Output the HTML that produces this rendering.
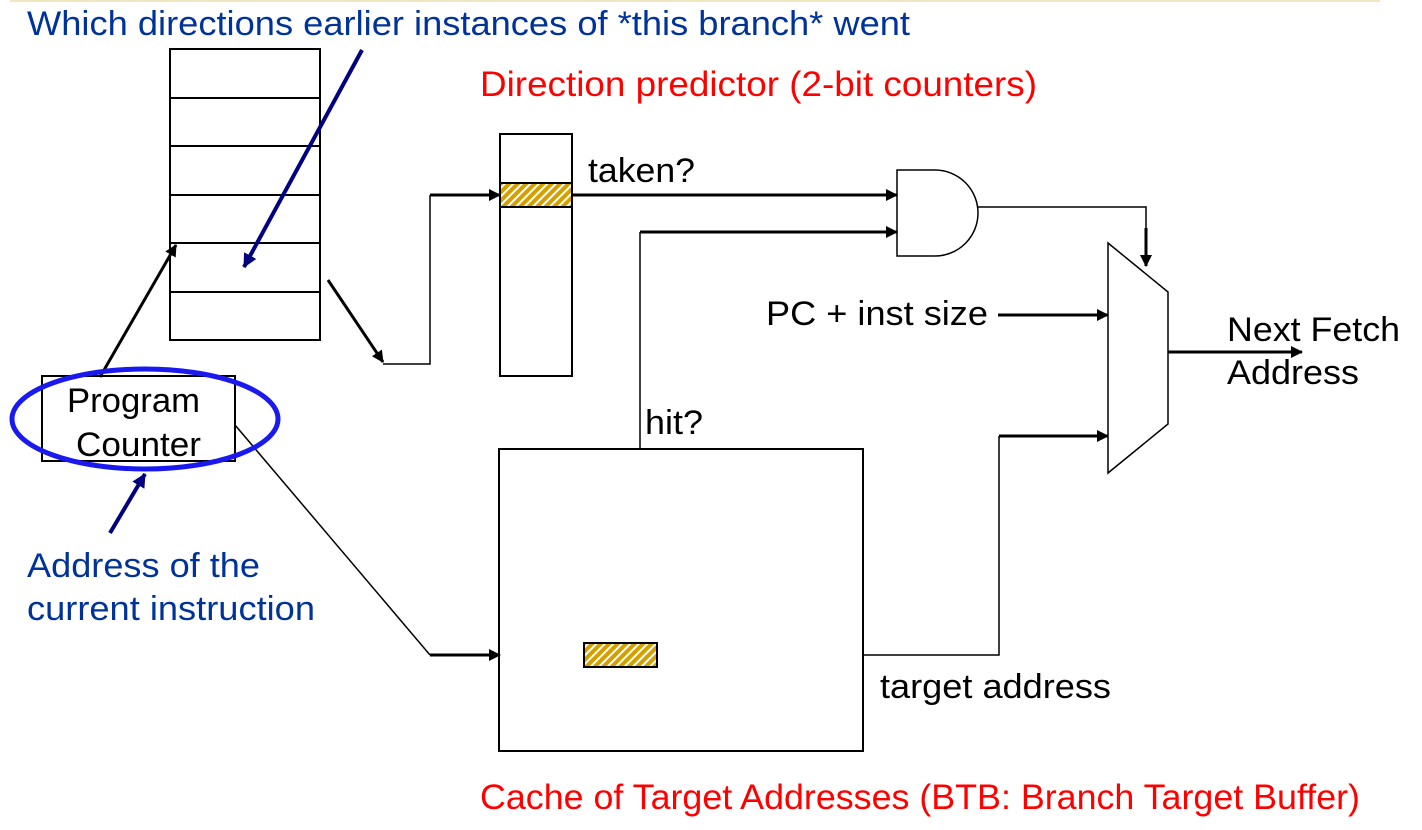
<!DOCTYPE html>
<html><head><meta charset="utf-8"><style>
html,body{margin:0;padding:0;background:#fff;}
svg{display:block;font-family:"Liberation Sans",Arial,sans-serif;}
</style></head><body>
<svg width="1422" height="830" viewBox="0 0 1422 830" xmlns="http://www.w3.org/2000/svg">
<defs>
<pattern id="h" patternUnits="userSpaceOnUse" width="6" height="6" patternTransform="rotate(45)">
<rect width="6" height="6" fill="#d4a000"/><rect width="2" height="6" fill="#fff"/>
</pattern>
<marker id="a2" markerWidth="12" markerHeight="12" refX="11" refY="6" orient="auto" markerUnits="userSpaceOnUse" viewBox="0 0 12 12"><path d="M0,0 L12,6 L0,12 z" fill="#000"/></marker>
<marker id="b" markerWidth="14" markerHeight="14" refX="13" refY="7" orient="auto" markerUnits="userSpaceOnUse" viewBox="0 0 14 14"><path d="M0,0 L14,7 L0,14 z" fill="#000080"/></marker>
</defs>
<line x1="10" y1="1" x2="1380" y2="1" stroke="#f0e6c0" stroke-width="2"/>
<text x="27" y="35" font-size="34" fill="#003399" textLength="883" lengthAdjust="spacingAndGlyphs">Which directions earlier instances of *this branch* went</text>
<text x="480" y="96" font-size="35" fill="#ff0000" textLength="557" lengthAdjust="spacingAndGlyphs">Direction predictor (2-bit counters)</text>
<text x="480" y="809" font-size="35" fill="#ff0000" textLength="880" lengthAdjust="spacingAndGlyphs">Cache of Target Addresses (BTB: Branch Target Buffer)</text>
<g fill="none" stroke="#000" stroke-width="2">
<rect x="170" y="49" width="150" height="291"/>
<line x1="170" y1="98" x2="320" y2="98"/><line x1="170" y1="146" x2="320" y2="146"/>
<line x1="170" y1="195" x2="320" y2="195"/><line x1="170" y1="243" x2="320" y2="243"/>
<line x1="170" y1="292" x2="320" y2="292"/>
<rect x="500" y="134" width="72" height="242"/>
<rect x="499" y="449" width="364" height="302"/>
<rect x="42" y="376" width="193" height="85"/>
</g>
<rect x="500" y="183" width="72" height="24" fill="url(#h)" stroke="#000" stroke-width="2"/>
<rect x="584" y="643" width="73" height="24" fill="url(#h)" stroke="#000" stroke-width="2"/>
<g fill="none" stroke="#000">
<line x1="100" y1="377" x2="176" y2="245" stroke-width="3" marker-end="url(#a2)"/>
<line x1="328" y1="280" x2="383" y2="362" stroke-width="3" marker-end="url(#a2)"/>
<polyline points="383,364 430,364 430,195" stroke-width="1.5"/>
<line x1="430" y1="195" x2="500" y2="195" stroke-width="3" marker-end="url(#a2)"/>
<line x1="572" y1="195" x2="897" y2="195" stroke-width="3" marker-end="url(#a2)"/>
<line x1="640" y1="449" x2="640" y2="232" stroke-width="1.5"/>
<line x1="640" y1="232" x2="897" y2="232" stroke-width="3" marker-end="url(#a2)"/>
<path d="M897,170 L935,170 A43,43 0 0 1 935,256 L897,256 Z" stroke-width="1.5"/>
<polyline points="978,207 1146,207 1146,230" stroke-width="1.5"/>
<line x1="1146" y1="228" x2="1146" y2="266" stroke-width="3" marker-end="url(#a2)"/>
<polygon points="1108,243 1168,292 1168,424 1108,473" stroke-width="1.5"/>
<line x1="998" y1="315" x2="1108" y2="315" stroke-width="3" marker-end="url(#a2)"/>
<line x1="1168" y1="352" x2="1302" y2="352" stroke-width="3" marker-end="url(#a2)"/>
<polyline points="864,655 999,655 999,436" stroke-width="1.5"/>
<line x1="999" y1="436" x2="1108" y2="436" stroke-width="3" marker-end="url(#a2)"/>
<line x1="235" y1="425" x2="430" y2="655" stroke-width="1.5"/>
<line x1="430" y1="655" x2="500" y2="655" stroke-width="3" marker-end="url(#a2)"/>
</g>
<line x1="362" y1="50" x2="244" y2="267" stroke="#000080" stroke-width="4" marker-end="url(#b)"/>
<line x1="110" y1="533" x2="145" y2="474" stroke="#000080" stroke-width="4" marker-end="url(#b)"/>
<ellipse cx="145" cy="419" rx="133" ry="50" fill="none" stroke="#1a1aee" stroke-width="5"/>
<g font-size="34" fill="#000" lengthAdjust="spacingAndGlyphs">
<text x="67" y="412" textLength="133" lengthAdjust="spacingAndGlyphs">Program</text>
<text x="76" y="456" textLength="125" lengthAdjust="spacingAndGlyphs">Counter</text>
<text x="588" y="182" textLength="107" lengthAdjust="spacingAndGlyphs">taken?</text>
<text x="645" y="434" textLength="58" lengthAdjust="spacingAndGlyphs">hit?</text>
<text x="766" y="325" textLength="222" lengthAdjust="spacingAndGlyphs">PC + inst size</text>
<text x="1227" y="341" textLength="173" lengthAdjust="spacingAndGlyphs">Next Fetch</text>
<text x="1227" y="384" textLength="132" lengthAdjust="spacingAndGlyphs">Address</text>
<text x="880" y="698" textLength="231" lengthAdjust="spacingAndGlyphs">target address</text>
</g>
<g font-size="34" fill="#003399">
<text x="27" y="577" textLength="233" lengthAdjust="spacingAndGlyphs">Address of the</text>
<text x="27" y="620" textLength="288" lengthAdjust="spacingAndGlyphs">current instruction</text>
</g>
</svg>
</body></html>
